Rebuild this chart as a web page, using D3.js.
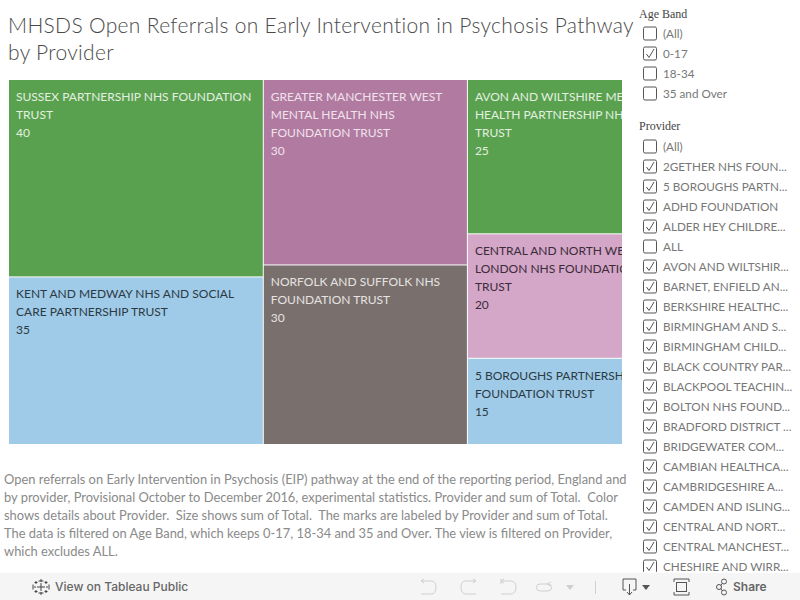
<!DOCTYPE html>
<html>
<head>
<meta charset="utf-8">
<title>MHSDS Open Referrals</title>
<script src="https://cdn.jsdelivr.net/npm/d3@7/dist/d3.min.js"></script>
<style>
    html, body { margin: 0; padding: 0; background: #fff; overflow: hidden; }
    svg { display: block; }
    text { font-family: Lato, "Open Sans", sans-serif; white-space: pre; }
</style>
</head>
<body>
<div id="chart"></div>
<script>

var providers = [
    'SUSSEX PARTNERSHIP NHS FOUNDATION TRUST',
    'KENT AND MEDWAY NHS AND SOCIAL CARE PARTNERSHIP TRUST',
    'GREATER MANCHESTER WEST MENTAL HEALTH NHS FOUNDATION TRUST',
    'NORFOLK AND SUFFOLK NHS FOUNDATION TRUST',
    'AVON AND WILTSHIRE MENTAL HEALTH PARTNERSHIP NHS TRUST',
    'CENTRAL AND NORTH WEST LONDON NHS FOUNDATION TRUST',
    '5 BOROUGHS PARTNERSHIP NHS FOUNDATION TRUST'
];
// printed labels are rounded to 5, the areas in the picture are not quite
var totals = [ 40, 35, 30, 30, 25, 20, 15 ];
var areaValues = [ 40.4, 34.5, 30.4, 29.6, 25.3, 20.4, 14.3 ];
var labelLines = [
    [ 'SUSSEX PARTNERSHIP NHS FOUNDATION', 'TRUST' ],
    [ 'KENT AND MEDWAY NHS AND SOCIAL', 'CARE PARTNERSHIP TRUST' ],
    [ 'GREATER MANCHESTER WEST', 'MENTAL HEALTH NHS', 'FOUNDATION TRUST' ],
    [ 'NORFOLK AND SUFFOLK NHS', 'FOUNDATION TRUST' ],
    [ 'AVON AND WILTSHIRE MENTAL', 'HEALTH PARTNERSHIP NHS', 'TRUST' ],
    [ 'CENTRAL AND NORTH WEST', 'LONDON NHS FOUNDATION', 'TRUST' ],
    [ '5 BOROUGHS PARTNERSHIP NHS', 'FOUNDATION TRUST' ]
];
var fillColors = [ '#59a14f', '#a0cbe8', '#b07aa1', '#79706e', '#59a14f', '#d4a6c8', '#a0cbe8' ];
var labelColors = [ '#e4efe0', '#2b3a44', '#f0e2ec', '#e6e2e1', '#e4efe0', '#3a2c38', '#2b3a44' ];

var titleLines = [ 'MHSDS Open Referrals on Early Intervention in Psychosis Pathway', 'by Provider' ];

var captionLines = [
    'Open referrals on Early Intervention in Psychosis (EIP) pathway at the end of the reporting period, England and',
    'by provider, Provisional October to December 2016, experimental statistics. Provider and sum of Total.  Color',
    'shows details about Provider.  Size shows sum of Total.  The marks are labeled by Provider and sum of Total.',
    'The data is filtered on Age Band, which keeps 0-17, 18-34 and 35 and Over. The view is filtered on Provider,',
    'which excludes ALL.'
];

var ageBands = [ '(All)', '0-17', '18-34', '35 and Over' ];
var ageChecked = [ false, true, false, false ];

var providerFilter = [
    '(All)', '2GETHER NHS FOUN...', '5 BOROUGHS PARTN...', 'ADHD FOUNDATION', 'ALDER HEY CHILDRE...',
    'ALL', 'AVON AND WILTSHIR...', 'BARNET, ENFIELD AN...', 'BERKSHIRE HEALTHC...', 'BIRMINGHAM AND S...',
    'BIRMINGHAM CHILD...', 'BLACK COUNTRY PAR...', 'BLACKPOOL TEACHIN...', 'BOLTON NHS FOUND...',
    'BRADFORD DISTRICT ...', 'BRIDGEWATER COM...', 'CAMBIAN HEALTHCA...', 'CAMBRIDGESHIRE A...',
    'CAMDEN AND ISLING...', 'CENTRAL AND NORT...', 'CENTRAL MANCHEST...', 'CHESHIRE AND WIRR...'
];
var providerUnchecked = [ '(All)', 'ALL' ];

var svg = d3.select('#chart').append('svg')
    .attr('width', 800)
    .attr('height', 600);

var defs = svg.append('defs');

defs.append('clipPath').attr('id', 'plot-clip')
    .append('rect').attr('x', 9).attr('y', 80).attr('width', 613).attr('height', 364);

defs.append('clipPath').attr('id', 'list-clip')
    .append('rect').attr('x', 636).attr('y', 0).attr('width', 164).attr('height', 572);

/* title */

svg.append('g').selectAll('text')
    .data( titleLines )
    .enter().append('text')
    .attr('x', 8)
    .attr('y', function ( d, i ) { return 33 + i * 27; })
    .attr('font-size', 21)
    .attr('font-weight', 300)
    .attr('letter-spacing', 0.32)
    .attr('fill', '#4a4a4a')
    .text( function ( d ) { return d; });

/* treemap: wider than the visible pane, right side gets clipped like in the original */

var root = d3.hierarchy({
    children: providers.map( function ( d, i ) {

        return { name: d, value: areaValues[ i ], total: totals[ i ], lines: labelLines[ i ], fill: fillColors[ i ], label: labelColors[ i ] };

    })
}).sum( function ( d ) { return d.value; });

d3.treemap()
    .tile( d3.treemapSquarify.ratio( 1 ) )
    .size([ 662, 365 ])
    .paddingInner( 1 )( root );

var plot = svg.append('g')
    .attr('clip-path', 'url(#plot-clip)')
    .append('g')
    .attr('transform', 'translate(9,80)');

var cell = plot.selectAll('g')
    .data( root.leaves() )
    .enter().append('g')
    .attr('transform', function ( d ) { return 'translate(' + d.x0 + ',' + d.y0 + ')'; });

cell.append('rect')
    .attr('width', function ( d ) { return d.x1 - d.x0; })
    .attr('height', function ( d ) { return d.y1 - d.y0; })
    .attr('fill', function ( d ) { return d.data.fill; });

cell.selectAll('text')
    .data( function ( d ) {

        return d.data.lines.concat([ String( d.data.total ) ]).map( function ( t ) {

            return { text: t, color: d.data.label };

        });

    })
    .enter().append('text')
    .attr('x', 7)
    .attr('y', function ( d, i ) { return 21 + i * 18; })
    .attr('font-size', 12)
    .attr('fill', function ( d ) { return d.color; })
    .text( function ( d ) { return d.text; });

/* caption */

svg.append('g').selectAll('text')
    .data( captionLines )
    .enter().append('text')
    .attr('x', 4)
    .attr('y', function ( d, i ) { return 484 + i * 18; })
    .attr('font-size', 12.9)
    .attr('fill', '#8a8a8a')
    .text( function ( d ) { return d; });

/* filters */

var filters = svg.append('g').attr('clip-path', 'url(#list-clip)');

function drawFilter ( title, titleY, firstRowY, items, isChecked ) {

    filters.append('text')
        .attr('x', 639)
        .attr('y', titleY)
        .attr('font-size', 12)
        .attr('fill', '#444')
        .style('font-family', '"Liberation Serif", serif')
        .text( title );

    var rowScale = d3.scaleLinear().domain([ 0, 1 ]).range([ firstRowY, firstRowY + 20 ]);

    var row = filters.append('g').selectAll('g')
        .data( items )
        .enter().append('g')
        .attr('transform', function ( d, i ) { return 'translate(0,' + rowScale( i ) + ')'; });

    row.append('rect')
        .attr('x', 643.5)
        .attr('y', -6.5)
        .attr('width', 13)
        .attr('height', 13)
        .attr('rx', 1.5)
        .attr('fill', '#fff')
        .attr('stroke', '#555');

    row.filter( function ( d, i ) { return isChecked( d, i ); })
        .append('path')
        .attr('d', 'M646.5 0.5 L649 4 L654 -4.5')
        .attr('fill', 'none')
        .attr('stroke', '#555');

    row.append('text')
        .attr('x', 663)
        .attr('y', 4)
        .attr('font-size', 11.7)
        .attr('fill', '#777')
        .text( function ( d ) { return d; });

}

drawFilter( 'Age Band', 18, 33.5, ageBands, function ( d, i ) { return ageChecked[ i ]; });

drawFilter( 'Provider', 130, 146.5, providerFilter, function ( d ) { return providerUnchecked.indexOf( d ) === -1; });

/* toolbar */

var bar = svg.append('g');

bar.append('rect')
    .attr('x', 0)
    .attr('y', 573)
    .attr('width', 800)
    .attr('height', 27)
    .attr('fill', '#f5f5f5');

var logo = bar.append('g')
    .attr('transform', 'translate(41,587)')
    .attr('fill', 'none')
    .attr('stroke', '#444')
    .attr('stroke-width', 1);

logo.append('path').attr('d', 'M-4 0H4M0 -4V4M-2.5 -6H2.5M-2.5 6H2.5M0 -8V-5M0 8V5M-7 0H-5M7 0H5M-8 -2.5V2.5M8 -2.5V2.5');
logo.append('path').attr('d', 'M-5 -6V-3M-6.5 -4.5H-3.5M5 -6V-3M3.5 -4.5H6.5M-5 3V6M-6.5 4.5H-3.5M5 3V6M3.5 4.5H6.5');

bar.append('text')
    .attr('x', 55)
    .attr('y', 591)
    .attr('font-size', 12)
    .attr('font-weight', 500)
    .attr('fill', '#666')
    .style('font-family', 'Inter, Roboto, sans-serif')
    .text('View on Tableau Public');

var icons = bar.append('g')
    .attr('fill', 'none')
    .attr('stroke', '#cfcfcf')
    .attr('stroke-width', 1);

icons.append('path').attr('d', 'M421 581H431Q436 581 436 587Q436 594 431 594H421M421 581L424 579M421 581L424 583');
icons.append('path').attr('d', 'M476 581H466Q461 581 461 587Q461 594 466 594H476M476 581L473 579M476 581L473 583');
icons.append('path').attr('d', 'M501 579V584M501 581H510Q516 581 516 587Q516 594 510 594H501M501 581L504 579M501 581L504 583');
icons.append('rect').attr('x', 536.5).attr('y', 584).attr('width', 15).attr('height', 7).attr('rx', 3.5);
icons.append('path').attr('d', 'M547 584L551 582M547 584L551 586');
icons.append('path').attr('d', 'M595.5 581V594');

bar.append('path').attr('d', 'M566 585H574L570 590Z').attr('fill', '#cfcfcf');

var active = bar.append('g')
    .attr('fill', 'none')
    .attr('stroke', '#555')
    .attr('stroke-width', 1);

active.append('path').attr('d', 'M626 590H623V579H636V590H633M629.5 584V595M627 592L629.5 595L632 592');
active.append('path').attr('d', 'M674 582V579H689V582M674 592V595H689V592');
active.append('rect').attr('x', 676.5).attr('y', 582.5).attr('width', 10).attr('height', 9);
active.append('circle').attr('cx', 719).attr('cy', 587).attr('r', 2.5);
active.append('circle').attr('cx', 724).attr('cy', 581.5).attr('r', 2.5);
active.append('circle').attr('cx', 724).attr('cy', 592.5).attr('r', 2.5);
active.append('path').attr('d', 'M721 585.5L722 583.5M721 588.5L722 590.5');

bar.append('path').attr('d', 'M642 585H650L646 590Z').attr('fill', '#555');

bar.append('text')
    .attr('x', 733)
    .attr('y', 591)
    .attr('font-size', 12)
    .attr('font-weight', 600)
    .attr('fill', '#666')
    .style('font-family', 'Inter, Roboto, sans-serif')
    .text('Share');

</script>
</body>
</html>
